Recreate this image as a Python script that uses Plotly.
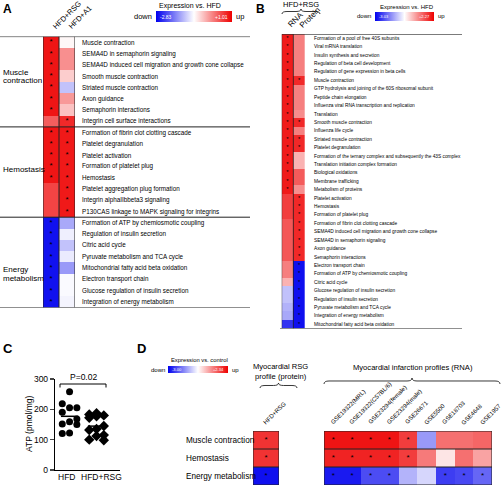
import plotly.graph_objects as go

W, H = 502, 490
FONT = "Liberation Sans, Arial, sans-serif"


def X(p):
    return p / W


def Y(p):
    return 1 - p / H


# ---------------- data ----------------
# Panel A
A_rows = [
    "Muscle contraction", "SEMA4D in semaphorin signaling",
    "SEMA4D induced cell migration and growth cone collapse", "Smooth muscle contraction",
    "Striated muscle contraction", "Axon guidance", "Semaphorin interactions",
    "Integrin cell surface interactions",
    "Formation of fibrin clot clotting cascade", "Platelet degranulation", "Platelet activation",
    "Formation of platelet plug", "Hemostasis", "Platelet aggregation plug formation",
    "Integrin alphaIIbbeta3 signaling", "P130CAS linkage to MAPK signaling for integrins",
    "Formation of ATP by chemiosmotic coupling", "Regulation of insulin secretion",
    "Citric acid cycle", "Pyruvate metabolism and TCA cycle",
    "Mitochondrial fatty acid beta oxidation", "Electron transport chain",
    "Glucose regulation of insulin secretion", "Integration of energy metabolism",
]
A_groups = [["Muscle", "contraction"], ["Hemostasis"], ["Energy", "metabolism"]]
A_cols = ["HFD+RSG", "HFD+A1"]
A_rsg = [0.85, 0.85, 0.85, 0.85, 0.85, 0.85, 0.85, 0.30,
         0.85, 0.85, 0.85, 0.85, 0.85, 0.50, 0.50, 0.50,
         -2.70, -2.70, -2.70, -2.70, -2.70, -2.70, -2.70, -2.70]
A_a1 = [-0.85, -0.07, -0.07, -0.53, -1.37, -0.14, -0.45, 0.70,
        0.82, 0.82, 0.82, 0.82, 0.82, 0.82, 0.82, 0.82,
        -1.56, -1.03, -1.37, -1.06, -1.68, -0.95, -0.95, -0.99]
A_rsg_star = [1, 1, 1, 1, 1, 1, 1, 0, 1, 1, 1, 1, 1, 0, 0, 0, 1, 1, 1, 1, 1, 1, 1, 1]
A_a1_star = [0, 0, 0, 0, 0, 0, 0, 1, 1, 1, 1, 1, 1, 1, 1, 1, 0, 0, 0, 0, 0, 0, 0, 0]
A_min, A_max = -2.83, 1.01
A_ticktext = ["-2.83", "+1.01"]

# Panel B
B_rows = [
    "Formation of a pool of free 40S subunits", "Viral mRNA translation",
    "Insulin synthesis and secretion", "Regulation of beta cell development",
    "Regulation of gene expression in beta cells", "Muscle contraction",
    "GTP hydrolysis and joining of the 60S ribosomal subunit", "Peptide chain elongation",
    "Influenza viral RNA transcription and replication", "Translation",
    "Smooth muscle contraction", "Influenza life cycle", "Striated muscle contraction",
    "Platelet degranulation", "Formation of the ternary complex and subsequently the 43S complex",
    "Translation initiation complex formation", "Biological oxidations", "Membrane trafficking",
    "Metabolism of proteins", "Platelet activation", "Hemostasis", "Formation of platelet plug",
    "Formation of fibrin clot clotting cascade",
    "SEMA4D induced cell migration and growth cone collapse", "SEMA4D in semaphorin signaling",
    "Axon guidance", "Semaphorin interactions", "Electron transport chain",
    "Formation of ATP by chemiosmotic coupling", "Citric acid cycle",
    "Glucose regulation of insulin secretion", "Regulation of insulin secretion",
    "Pyruvate metabolism and TCA cycle", "Integration of energy metabolism",
    "Mitochondrial fatty acid beta oxidation",
]
B_title = "HFD+RSG"
B_cols = ["RNA", "Protein"]
B_rna = [2.0] * 19 + [1.63, 1.63, 1.63, 1.37, 1.37, 1.37, 1.37, 1.37,
                      0.95, 0.95, 0.42, -1.02, -1.02, -1.18, -1.28, -2.50]
B_protein = [0.95, 0.95, 0.95, 0.95, 0.95, 1.85, 0.95, 0.95, 0.95, 0.80,
             1.85, 0.95, 1.85, 1.85, 0.42, 0.42, 1.32, 1.32, 0.79,
             1.85, 1.85, 1.85, 1.85, 1.85, 1.85, 1.85, 1.85,
             -2.87, -2.87, -2.87, -2.87, -2.87, -2.87, -2.87, -2.87]
B_rna_star = [1] * 19 + [0] * 16
B_protein_star = [0, 0, 0, 0, 0, 1, 0, 0, 0, 0, 1, 0, 1, 1, 0, 0, 0, 0, 0] + [1] * 16
B_min, B_max = -3.03, 2.27
B_ticktext = ["-3.03", "+2.27"]

# Panel C
C_groups = ["HFD", "HFD+RSG"]
C_hfd = [258, 218, 205, 205, 190, 168, 159, 152, 150, 122, 120]
C_rsg = [187, 183, 180, 177, 172, 145, 135, 132, 115, 112, 100, 98]
C_ticks = [0, 100, 200, 300]
C_pvalue = "P=0.02"
C_ylabel = "ATP (pmol/mg)"

# Panel D
D_rows = ["Muscle contraction", "Hemostasis", "Energy metabolism"]
D_rsg_cols = ["HFD+RSG"]
D_rsg = [[1.81], [1.81], [-2.84]]
D_rsg_star = [[1], [1], [1]]
D_mi_cols = ["GSE19322(MRL)", "GSE19322(C57BL/6)", "GSE23294(female)", "GSE23294(male)",
             "GSE26671", "GSE5500", "GSE18703", "GSE4648", "GSE1957"]
D_mi = [
    [2.13, 2.13, 2.13, 2.13, 1.70, -1.40, 1.17, 1.17, 1.27],
    [1.97, 1.97, 1.97, 1.97, 1.70, 1.06, -0.06, 1.17, 0.63],
    [-2.73, -2.73, -2.20, -2.20, -1.13, -0.76, -2.36, -2.25, -1.93],
]
D_mi_star = [
    [1, 1, 1, 1, 1, 0, 0, 0, 0],
    [1, 1, 1, 1, 1, 0, 0, 0, 0],
    [1, 1, 1, 1, 0, 0, 1, 1, 1],
]
D_min, D_max = -3.00, 2.34
D_ticktext = ["-3.00", "+2.34"]

# ---------------- styling ----------------
CS = [[0, "rgb(0,0,238)"], [0.5, "rgb(255,255,255)"], [1, "rgb(238,0,0)"]]
LINE = "#222"

fig = go.Figure()
annotations = []
shapes = []


def ann(text, px, py, size, xanchor="left", yanchor="middle", color="black", bold=False,
        angle=0, xref="paper", yref="paper", x=None, y=None):
    t = f"<b>{text}</b>" if bold else text
    annotations.append(dict(
        text=t, x=X(px) if x is None else x, y=Y(py) if y is None else y,
        xref=xref, yref=yref, xanchor=xanchor, yanchor=yanchor, showarrow=False,
        textangle=angle, font=dict(size=size, color=color, family=FONT)))


def colorbar(cx, top, length, thick):
    return dict(orientation="h", x=X(cx), xanchor="center", y=Y(top), yanchor="top",
                lenmode="pixels", len=length, thicknessmode="pixels", thickness=thick,
                outlinewidth=0, showticklabels=False, ticks="", xpad=0, ypad=0,
                bgcolor="rgba(0,0,0,0)", borderwidth=0)


def stars(xs_ys, xa, ya, size):
    xs = [p[0] for p in xs_ys]
    ys = [p[1] for p in xs_ys]
    fig.add_trace(go.Scatter(x=xs, y=ys, mode="text", text=["*"] * len(xs),
                             textposition="middle center",
                             textfont=dict(size=size, color="black", family=FONT),
                             xaxis=xa, yaxis=ya, showlegend=False, hoverinfo="skip"))


def brace(x0, x1, ytip, yend):
    xc = (x0 + x1) / 2
    ym = (ytip + yend) / 2
    q = min(5, (x1 - x0) / 6)
    pts = [("M", [(x0, yend)]), ("Q", [(x0, ym), (x0 + q, ym)]), ("L", [(xc - q, ym)]),
           ("Q", [(xc, ym), (xc, ytip)]), ("Q", [(xc, ym), (xc + q, ym)]),
           ("L", [(x1 - q, ym)]), ("Q", [(x1, ym), (x1, yend)])]
    s = ""
    for cmd, ps in pts:
        s += cmd + " " + " ".join(f"{X(a):.5f},{Y(b):.5f}" for a, b in ps) + " "
    shapes.append(dict(type="path", path=s, xref="paper", yref="paper",
                       line=dict(color=LINE, width=0.9)))


layout_axes = {}


def axes(n, xd, yd, xr, yr, visible=False):
    sx = "" if n == 1 else str(n)
    layout_axes["xaxis" + sx] = dict(domain=[X(xd[0]), X(xd[1])], range=xr, visible=visible,
                                     anchor="y" + sx, fixedrange=True)
    layout_axes["yaxis" + sx] = dict(domain=[Y(yd[1]), Y(yd[0])], range=yr, visible=visible,
                                     anchor="x" + sx, fixedrange=True)


# ---------------- Panel A ----------------
nA = len(A_rows)
axes(1, (43, 75), (36.6, 307.5), [-0.5, 1.5], [nA - 0.5, -0.5])
fig.add_trace(go.Heatmap(z=[[a, b] for a, b in zip(A_rsg, A_a1)], x=[0, 1], y=list(range(nA)),
                         colorscale=CS, zmin=A_min, zmax=A_max, xaxis="x", yaxis="y",
                         colorbar=colorbar(194, 11, 76, 11), hoverinfo="skip"))
stars([(0, i) for i, s in enumerate(A_rsg_star) if s] + [(1, i) for i, s in enumerate(A_a1_star) if s],
      "x", "y", 8)
for i, r in enumerate(A_rows):
    ann(r, 80, 0, 6.3, xref="paper", yref="y", y=i)
for j, c in enumerate(A_cols):
    ann(c, 0, 34, 7.5, xanchor="left", yanchor="bottom", angle=-45, xref="x", x=j - 0.2)
for yb in [-0.5, 7.5, 15.5, 23.5]:
    shapes.append(dict(type="line", xref="paper", yref="y", x0=0, x1=X(250), y0=yb, y1=yb,
                       line=dict(color=LINE, width=1)))
for xb in [-0.5, 0.5, 1.5]:
    shapes.append(dict(type="line", xref="x", yref="y", x0=xb, x1=xb, y0=-0.5, y1=nA - 0.5,
                       line=dict(color=LINE, width=1)))
ann(A_groups[0][0], 1, 72, 8)
ann(A_groups[0][1], 1, 81, 8)
ann(A_groups[1][0], 1, 169, 8)
ann(A_groups[2][0], 1, 269, 8)
ann(A_groups[2][1], 1, 278, 8)
ann("Expression vs. HFD", 190, 5.5, 7, xanchor="center")
ann("down", 154, 17, 7.5, xanchor="right")
ann("up", 234, 17, 7.5)
ann(A_ticktext[0], 158, 17, 5, color="white")
ann(A_ticktext[1], 230, 17, 5, xanchor="right", color="white")
ann("A", 1, 9, 12, bold=True)

# ---------------- Panel B ----------------
nB = len(B_rows)
axes(2, (281.7, 305), (34.1, 328.5), [-0.5, 1.5], [nB - 0.5, -0.5])
fig.add_trace(go.Heatmap(z=[[a, b] for a, b in zip(B_rna, B_protein)], x=[0, 1], y=list(range(nB)),
                         colorscale=CS, zmin=B_min, zmax=B_max, xaxis="x2", yaxis="y2",
                         colorbar=colorbar(404.5, 12.3, 59, 8.5), hoverinfo="skip"))
stars([(0, i) for i, s in enumerate(B_rna_star) if s] + [(1, i) for i, s in enumerate(B_protein_star) if s],
      "x2", "y2", 6)
for i, r in enumerate(B_rows):
    ann(r, 312, 0, 4.8, xref="paper", yref="y2", y=i)
for j, c in enumerate(B_cols):
    ann(c, 0, 32, 8, xanchor="left", yanchor="bottom", angle=-45, xref="x2", x=j - 0.35)
for yb, x0 in [(-0.5, 282), (nB - 0.5, 280)]:
    shapes.append(dict(type="line", xref="paper", yref="y2", x0=X(x0), x1=X(462), y0=yb, y1=yb,
                       line=dict(color=LINE, width=1)))
for xb in [-0.5, 0.5]:
    shapes.append(dict(type="line", xref="x2", yref="y2", x0=xb, x1=xb, y0=-0.5, y1=nB - 0.5,
                       line=dict(color=LINE, width=0.8)))
ann(B_title, 301, 4.5, 7.5, xanchor="center")
brace(282, 320, 9, 14)
ann("Expression vs. HFD", 407, 6.5, 6, xanchor="center")
ann("down", 373, 16.5, 6, xanchor="right")
ann("up", 436, 16.5, 6)
ann(B_ticktext[0], 377, 16.5, 4, color="white")
ann(B_ticktext[1], 432, 16.5, 4, xanchor="right", color="white")
ann("B", 254, 9, 12, bold=True)

# ---------------- Panel C ----------------
c0, c1 = 0, 1
axes(3, (55, 120), (379, 470), [-0.54, 1.87], [0, 300], visible=True)
layout_axes["xaxis3"].update(showline=True, linecolor="black", linewidth=1.2, ticks="",
                             showticklabels=False, showgrid=False, zeroline=False)
layout_axes["yaxis3"].update(showline=True, linecolor="black", linewidth=1.2, ticks="outside",
                             ticklen=4, tickwidth=1.2, tickvals=C_ticks, showgrid=False,
                             zeroline=False, tickfont=dict(size=8.5, family=FONT, color="black"))


def spread(vals, center, sym, size):
    order = sorted(range(len(vals)), key=lambda k: -vals[k])
    xs = [0.0] * len(vals)
    for rank, k in enumerate(order):
        xs[k] = center + [0, -1, 1][rank % 3] * 0.27
    fig.add_trace(go.Scatter(x=xs, y=vals, mode="markers", xaxis="x3", yaxis="y3",
                             marker=dict(symbol=sym, size=size, color="black"),
                             cliponaxis=False, showlegend=False))
    m = sum(vals) / len(vals)
    fig.add_trace(go.Scatter(x=[center - 0.32, center + 0.32], y=[m, m], mode="lines",
                             xaxis="x3", yaxis="y3", line=dict(color="black", width=1.5),
                             showlegend=False, cliponaxis=False))


spread(C_hfd, c0, "circle", 7)
spread(C_rsg, c1, "diamond", 8)
ann(C_groups[0], 66, 477, 8.5, xanchor="center")
ann(C_groups[1], 101, 477, 8.5, xanchor="center")
ann(C_ylabel, 29, 424, 8.5, xanchor="center", angle=-90)
ann(C_pvalue, 83, 377, 8.5, xanchor="center")
shapes.append(dict(type="path", xref="paper", yref="paper",
                   path=f"M {X(60)},{Y(387.5)} L {X(60)},{Y(384)} L {X(106)},{Y(384)} L {X(106)},{Y(387.5)}",
                   line=dict(color="black", width=1)))
ann("C", 1, 348, 13, bold=True)

# ---------------- Panel D ----------------
nD = len(D_rows)
axes(4, (253, 279), (431, 485), [-0.5, 0.5], [nD - 0.5, -0.5])
axes(5, (324, 492), (431, 485), [-0.5, len(D_mi_cols) - 0.5], [nD - 0.5, -0.5])
fig.add_trace(go.Heatmap(z=D_rsg, x=[0], y=list(range(nD)), colorscale=CS, zmin=D_min, zmax=D_max,
                         xaxis="x4", yaxis="y4", colorbar=colorbar(198, 366, 60, 7), hoverinfo="skip"))
fig.add_trace(go.Heatmap(z=D_mi, x=list(range(len(D_mi_cols))), y=list(range(nD)), colorscale=CS,
                         zmin=D_min, zmax=D_max, xaxis="x5", yaxis="y5", showscale=False,
                         hoverinfo="skip"))
stars([(0, i) for i in range(nD) if D_rsg_star[i][0]], "x4", "y4", 8)
stars([(j, i) for i in range(nD) for j in range(len(D_mi_cols)) if D_mi_star[i][j]], "x5", "y5", 8)
for n, ncol in [(4, 1), (5, len(D_mi_cols))]:
    shapes.append(dict(type="rect", xref=f"x{n}", yref=f"y{n}", x0=-0.5, x1=ncol - 0.5,
                       y0=-0.5, y1=nD - 0.5, line=dict(color=LINE, width=1)))
    for yb in [0.5, 1.5]:
        shapes.append(dict(type="line", xref=f"x{n}", yref=f"y{n}", x0=-0.5, x1=ncol - 0.5,
                           y0=yb, y1=yb, line=dict(color=LINE, width=1)))
for i, r in enumerate(D_rows):
    ann(r, 184, 0, 8.2, xref="paper", yref="y4", y=i)
for j, c in enumerate(D_rsg_cols):
    ann(c, 0, 428, 6, xanchor="left", yanchor="bottom", angle=-45, xref="x4", x=j - 0.25)
for j, c in enumerate(D_mi_cols):
    ann(c, 0, 428, 6, xanchor="left", yanchor="bottom", angle=-45, xref="x5", x=j - 0.35)
ann("Myocardial RSG<br>profile (protein)", 280, 371, 7.6, xanchor="center")
brace(260, 297, 383, 388)
ann("Myocardial infarction profiles (RNA)", 413, 367, 7.6, xanchor="center")
brace(324, 500, 378, 384)
ann("Expression vs. control", 199, 360, 5.8, xanchor="center")
ann("down", 167, 369.5, 6, xanchor="right")
ann("up", 230, 369.5, 6)
ann(D_ticktext[0], 170, 369.5, 4, color="white")
ann(D_ticktext[1], 226, 369.5, 4, xanchor="right", color="white")
ann("D", 135, 348, 13, bold=True)

fig.update_layout(width=W, height=H, margin=dict(l=0, r=0, t=0, b=0, autoexpand=False),
                  paper_bgcolor="white", plot_bgcolor="rgba(0,0,0,0)",
                  font=dict(family=FONT, color="black"), showlegend=False,
                  annotations=annotations, shapes=shapes, **layout_axes)
fig.write_html("out.html", config={"displayModeBar": False, "staticPlot": True},
               post_script="document.body.style.margin='0';document.body.style.overflow='hidden';")
